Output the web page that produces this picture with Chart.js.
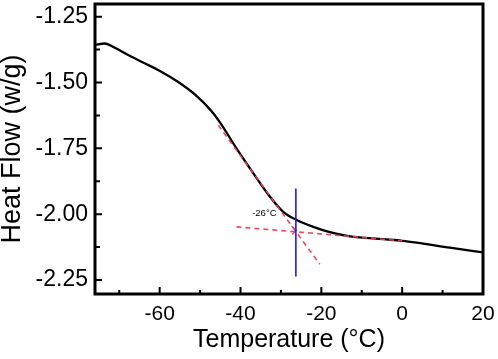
<!DOCTYPE html>
<html>
<head>
<meta charset="utf-8">
<script src="https://cdn.jsdelivr.net/npm/chart.js@4.4.1/dist/chart.umd.min.js"></script>
<style>
  html, body { margin: 0; padding: 0; background: #ffffff; }
  #wrap { width: 498px; height: 359px; position: relative; }
</style>
</head>
<body>
<div id="wrap"><canvas id="c" width="498" height="359"></canvas></div>
<script>
// ---- data ----
const tempC = [-76.0, -73.6, -71.1, -67.9, -63.7, -59.6, -55.5, -51.3, -47.2, -45.0, -41.0, -36.9, -32.8, -29.5, -26.1, -22.0, -17.9, -12.9, -4.7, 0.0, 3.6, 11.8, 20.0];
const heatFlow = [-1.357, -1.352, -1.368, -1.395, -1.427, -1.459, -1.497, -1.545, -1.608, -1.653, -1.750, -1.843, -1.932, -1.990, -2.022, -2.048, -2.068, -2.084, -2.095, -2.101, -2.108, -2.127, -2.145];

const tangentSteepX = [-45.5, -20.4];
const tangentSteepY = [-1.662, -2.190];
const tangentBaseX = [-41.0, 0.0];
const tangentBaseY = [-2.048, -2.101];
const arrowX = [-27.4, -26.2, -27.2];
const arrowY = [-2.045, -2.060, -2.077];
const markerX = [-26.3, -26.3];
const markerY = [-1.902, -2.237];

const annotationText = '-26°C';
const annotationPos = [-34.1, -1.997];

const xTickValues = [-60, -40, -20, 0, 20];
const xMinorValues = [-70, -50, -30, -10, 10];
const yTickValues = [-1.25, -1.50, -1.75, -2.00, -2.25];
const yMinorValues = [-1.375, -1.625, -1.875, -2.125];

const xTitle = 'Temperature (°C)';
const yTitle = 'Heat Flow (w/g)';

function pts(xs, ys) { return xs.map((x, i) => ({ x: x, y: ys[i] })); }

const RED = 'rgba(232, 64, 88, 0.95)';

const framePlugin = {
  id: 'frame',
  afterDatasetsDraw(chart) {
    const { ctx, chartArea: a, scales: { x, y } } = chart;
    ctx.save();
    ctx.fillStyle = '#000';
    ctx.font = '9.5px "Liberation Sans", Arial, sans-serif';
    ctx.textAlign = 'center';
    ctx.textBaseline = 'middle';
    ctx.fillText(annotationText, x.getPixelForValue(annotationPos[0]), y.getPixelForValue(annotationPos[1]));
    ctx.strokeStyle = '#000';
    ctx.lineWidth = 2;
    ctx.beginPath();
    xTickValues.forEach(v => { const p = x.getPixelForValue(v); ctx.moveTo(p, a.bottom); ctx.lineTo(p, a.bottom - 7); });
    xMinorValues.forEach(v => { const p = x.getPixelForValue(v); ctx.moveTo(p, a.bottom); ctx.lineTo(p, a.bottom - 4); });
    yTickValues.forEach(v => { const p = y.getPixelForValue(v); ctx.moveTo(a.left, p); ctx.lineTo(a.left + 7, p); });
    yMinorValues.forEach(v => { const p = y.getPixelForValue(v); ctx.moveTo(a.left, p); ctx.lineTo(a.left + 5, p); });
    ctx.stroke();
    ctx.lineWidth = 3;
    ctx.strokeRect(a.left, a.top, a.right - a.left, a.bottom - a.top);
    ctx.restore();
  }
};

new Chart(document.getElementById('c'), {
  type: 'line',
  data: {
    datasets: [
      { data: pts(tempC, heatFlow), borderColor: '#000', borderWidth: 2.3, pointRadius: 0, cubicInterpolationMode: 'monotone', order: 3 },
      { data: pts(tangentSteepX, tangentSteepY), borderColor: RED, borderWidth: 1.6, borderDash: [5, 4], pointRadius: 0, order: 1 },
      { data: pts(tangentBaseX, tangentBaseY), borderColor: RED, borderWidth: 1.6, borderDash: [5, 4], pointRadius: 0, order: 1 },
      { data: pts(arrowX, arrowY), borderColor: RED, borderWidth: 1.4, pointRadius: 0, tension: 0, order: 1 },
      { data: pts(markerX, markerY), borderColor: '#1a1aff', borderWidth: 1.6, pointRadius: 0, order: 0 }
    ]
  },
  options: {
    responsive: false,
    animation: false,
    devicePixelRatio: 1,
    layout: { padding: { top: 4, right: 15, left: 0, bottom: 0 } },
    plugins: { legend: { display: false }, tooltip: { enabled: false } },
    scales: {
      x: {
        type: 'linear',
        min: -76, max: 20,
        grid: { display: false, drawTicks: false },
        border: { display: false },
        afterBuildTicks: s => { s.ticks = xTickValues.map(v => ({ value: v })); },
        afterFit: s => { s.height = 65; s.paddingLeft = 0; s.paddingRight = 0; },
        ticks: {
          padding: 8,
          color: '#000',
          font: { family: '"Liberation Sans", Arial, sans-serif', size: 21 },
          callback: v => String(v),
          maxRotation: 0
        },
        title: {
          display: true, text: xTitle, color: '#000',
          font: { family: '"Liberation Sans", Arial, sans-serif', size: 25, lineHeight: 1.2 },
          padding: { top: 0, bottom: 4 }
        }
      },
      y: {
        type: 'linear',
        min: -2.303, max: -1.202,
        grid: { display: false, drawTicks: false },
        border: { display: false },
        afterBuildTicks: s => { s.ticks = yTickValues.map(v => ({ value: v })); },
        afterFit: s => { s.width = 95; s.paddingTop = 0; s.paddingBottom = 0; },
        ticks: {
          padding: 7,
          color: '#000',
          font: { family: '"Liberation Sans", Arial, sans-serif', size: 23 },
          callback: v => v.toFixed(2)
        },
        title: {
          display: true, text: yTitle, color: '#000',
          font: { family: '"Liberation Sans", Arial, sans-serif', size: 27, lineHeight: 0.9 },
          padding: { top: 0, bottom: 0 }
        }
      }
    }
  },
  plugins: [framePlugin]
});
</script>
</body>
</html>
